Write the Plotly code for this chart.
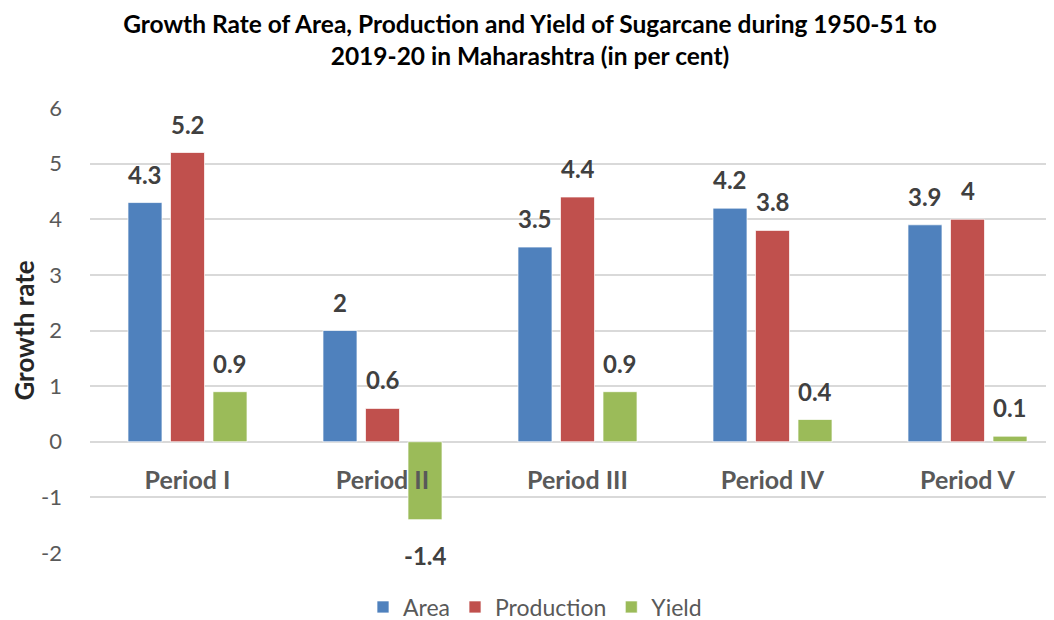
import plotly.graph_objects as go

categories = ["Period I", "Period II", "Period III", "Period IV", "Period V"]
area = [4.3, 2, 3.5, 4.2, 3.9]
production = [5.2, 0.6, 4.4, 3.8, 4]
yield_ = [0.9, -1.4, 0.9, 0.4, 0.1]
tick_vals = [-2, -1, 0, 1, 2, 3, 4, 5, 6]
tick_text = ["-2", "-1", "0", "1", "2", "3", "4", "5", "6"]

series = [
    ("Area", area, "#4F81BD"),
    ("Production", production, "#C0504D"),
    ("Yield", yield_, "#9BBB59"),
]

# page body has an 8px default margin, so the figure is drawn at (8, 8)
W, H, OFF = 1046, 612, 8
BARGAP = 0.346
CAT_PX = 195  # pixels per category
SLOT_PX = CAT_PX * (1 - BARGAP) / len(series)

fig = go.Figure()
for name, vals, col in series:
    fig.add_trace(go.Bar(
        x=categories, y=vals, name=name,
        marker=dict(color=col, line=dict(color="rgba(255,255,255,0.7)", width=1)),
    ))

# value labels placed at each bar (data coordinates via the axes)
for i, (name, vals, col) in enumerate(series):
    for cat, v in zip(categories, vals):
        fig.add_annotation(
            x=cat, y=v, xref="x", yref="y",
            text=f"<b>{v:g}</b>", showarrow=False,
            xshift=(i - 1) * SLOT_PX,
            yanchor="bottom" if v >= 0 else "top",
            yshift=12 if v >= 0 else -19,
            font=dict(family="Lato", size=24, color="#404040"),
        )

fig.update_layout(
    width=W, height=H,
    paper_bgcolor="white", plot_bgcolor="white",
    margin=dict(l=90 - OFF, r=0, t=108 - OFF, b=67, autoexpand=False),
    barmode="group", bargap=BARGAP, bargroupgap=0.2,
    font=dict(family="Lato", color="#595959"),
    title=dict(
        text="<b>Growth Rate of Area, Production and Yield of Sugarcane during 1950-51 to<br>2019-20 in Maharashtra (in per cent)</b>",
        x=(530 - OFF) / W, xanchor="center", y=1 - (33 - OFF) / H, yanchor="middle", yref="container",
        font=dict(family="Lato", size=24.5, color="#000000"),
    ),
    legend=dict(
        orientation="h", x=(535 - OFF) / W, xanchor="center", xref="container",
        y=1 - (607 - OFF) / H, yanchor="middle", yref="container",
        font=dict(family="Lato", size=23, color="#595959"),
        itemwidth=30, traceorder="normal",
    ),
)

fig.update_xaxes(
    range=[-0.5, -0.5 + (1054 - 90) / CAT_PX],
    anchor="free", position=0.25,
    showline=False, showgrid=False, ticks="",
    ticklabelstandoff=21,
    tickfont=dict(family="Lato", size=25, color="#595959", weight="bold"),
    automargin=False,
)
fig.update_yaxes(
    range=[-2, 6], tickvals=tick_vals, ticktext=tick_text,
    showgrid=True, gridcolor="#D9D9D9", gridwidth=1.5,
    zeroline=True, zerolinecolor="#D9D9D9", zerolinewidth=1.5,
    tickfont=dict(family="Lato", size=22, color="#595959"),
    ticklabelstandoff=27,
    automargin=False,
    title=dict(text="<b>Growth rate</b>", font=dict(family="Lato", size=26, color="#262626"), standoff=10),
)

fig.write_html("out.html")
